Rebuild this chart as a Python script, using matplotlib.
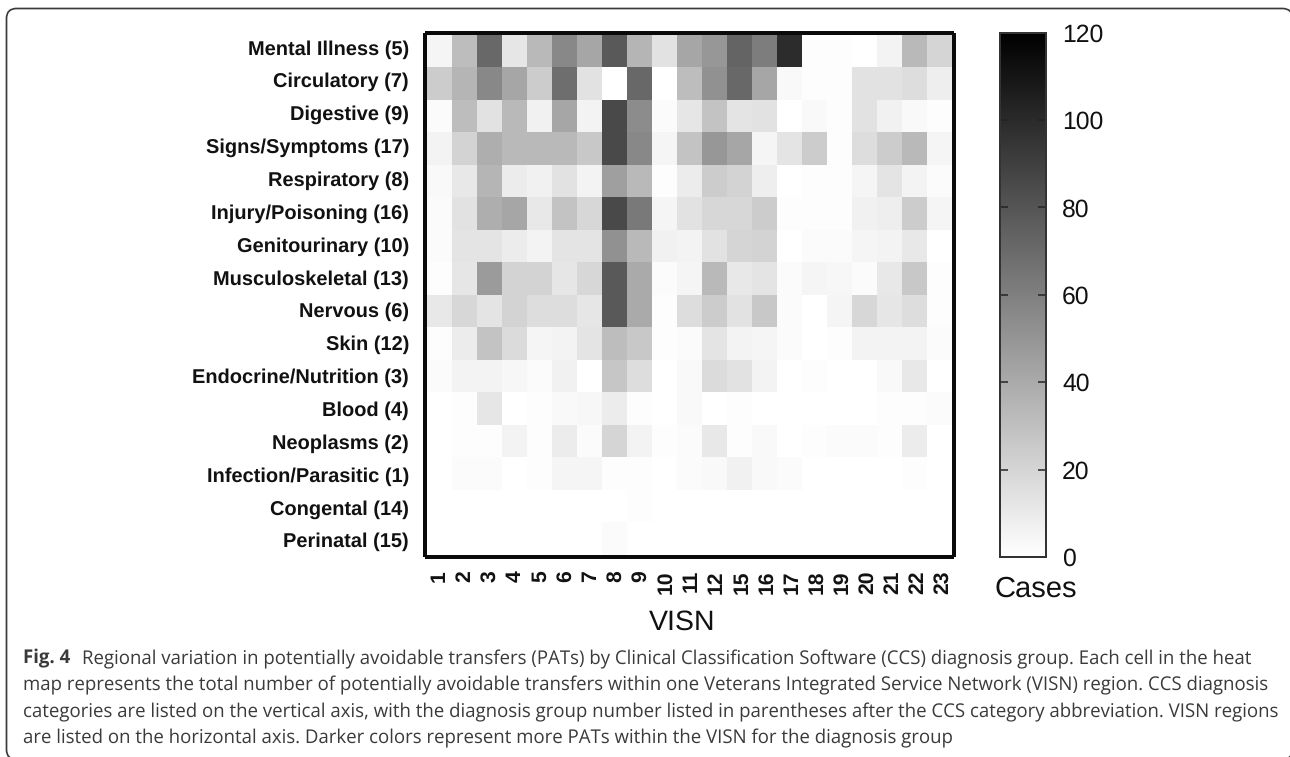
import matplotlib
matplotlib.use("Agg")
import matplotlib.pyplot as plt
from matplotlib.colors import LinearSegmentedColormap
from matplotlib.patches import FancyBboxPatch
import numpy as np

W, H = 1290, 757
DPI = 100

visn = ["1","2","3","4","5","6","7","8","9","10","11","12","15","16","17","18","19","20","21","22","23"]
diagnoses = ["Mental Illness (5)","Circulatory (7)","Digestive (9)","Signs/Symptoms (17)","Respiratory (8)",
             "Injury/Poisoning (16)","Genitourinary (10)","Musculoskeletal (13)","Nervous (6)","Skin (12)",
             "Endocrine/Nutrition (3)","Blood (4)","Neoplasms (2)","Infection/Parasitic (1)","Congental (14)","Perinatal (15)"]

mental   = [5,31,71,12,33,56,42,78,35,14,42,49,73,61,99,1,1,0,6,33,20]
circ     = [24,35,56,42,24,68,14,0,71,0,31,52,71,42,3,1,1,14,14,16,8]
digest   = [2,31,14,33,7,42,6,85,54,2,12,28,13,14,0,3,1,14,7,3,1]
signs    = [6,21,38,33,33,33,26,85,56,5,28,49,42,5,13,24,1,16,24,33,5]
resp     = [3,11,35,9,7,14,6,45,33,1,9,24,21,8,0,1,1,5,13,6,2]
injury   = [2,14,38,42,11,28,19,85,63,5,14,19,19,24,1,1,1,7,8,24,5]
genito   = [2,13,13,9,6,13,13,52,33,7,6,14,20,21,0,2,2,5,6,11,0]
musculo  = [1,12,47,21,21,12,19,78,40,2,5,33,11,13,2,5,4,2,11,26,1]
nervous  = [11,19,13,21,16,16,12,78,40,1,16,24,14,26,2,0,5,19,12,16,1]
skin     = [1,9,28,17,5,6,13,31,26,1,2,13,6,5,2,0,1,6,6,6,2]
endo     = [2,6,6,4,2,7,0,27,16,0,3,17,14,6,0,1,0,0,3,11,0]
blood    = [0,1,12,0,1,3,4,9,1,0,3,0,1,0,0,0,0,0,1,1,2]
neoplasm = [0,1,1,6,1,9,2,20,6,1,2,11,1,3,0,1,2,2,1,9,0]
infect   = [0,2,2,0,1,5,5,1,1,0,2,3,7,3,2,0,0,0,0,1,0]
congen   = [0,0,0,0,0,0,0,0,1,0,0,0,0,0,0,0,0,0,0,0,0]
perinat  = [0,0,0,0,0,0,0,2,0,0,0,0,0,0,0,0,0,0,0,0,0]

cbar_ticks = [0,20,40,60,80,100,120]
caption_bold = "Fig. 4"
caption_lines = [
 "Regional variation in potentially avoidable transfers (PATs) by Clinical Classification Software (CCS) diagnosis group. Each cell in the heat",
 "map represents the total number of potentially avoidable transfers within one Veterans Integrated Service Network (VISN) region. CCS diagnosis",
 "categories are listed on the vertical axis, with the diagnosis group number listed in parentheses after the CCS category abbreviation. VISN regions",
 "are listed on the horizontal axis. Darker colors represent more PATs within the VISN for the diagnosis group",
]

values = np.array([mental,circ,digest,signs,resp,injury,genito,musculo,nervous,skin,endo,blood,neoplasm,infect,congen,perinat], dtype=float)

plt.rcParams['font.family'] = ['Liberation Sans', 'DejaVu Sans']
plt.rcParams['text.hinting'] = 'no_hinting'
plt.rcParams['text.hinting_factor'] = 8
px = lambda p: p * 72 / DPI

def rect(x0, y0, x1, y1):
    return [x0 / W, 1 - y1 / H, (x1 - x0) / W, (y1 - y0) / H]

fig = plt.figure(figsize=(W / DPI, H / DPI), dpi=DPI, facecolor='white')

# decoration layer in pixel coordinates
bg = fig.add_axes([0, 0, 1, 1], zorder=-1)
bg.set_xlim(0, W); bg.set_ylim(H, 0); bg.axis('off')
bg.add_patch(FancyBboxPatch((6.5, 8.5), 1286, 751, boxstyle="round,pad=0,rounding_size=10",
                            fc='white', ec='#3a3a3a', lw=px(1.7), clip_on=False))

# heat map
cmap = LinearSegmentedColormap.from_list("wb", ["#ffffff", "#000000"])
ax = fig.add_axes(rect(427, 35, 952, 555))
im = ax.imshow(values, cmap=cmap, vmin=0, vmax=120, aspect='auto', interpolation='nearest')
# spine repositioning resets the ticks, so it comes before the tick labels
for s in ax.spines.values():
    s.set_linewidth(px(4))
    s.set_color('#0a0a0a')
    s.set_position(('outward', px(2)))
# the reference's tick labels are spaced slightly wider than its cells
x_label_pos = (439.5 + 25.18 * np.arange(len(visn)) - 427) / 25 - 0.5
y_label_pos = (49.25 + 32.85 * np.arange(len(diagnoses)) - 35) / 32.5 - 0.5
ax.set_xticks(x_label_pos)
ax.set_xticklabels(visn, rotation=90, fontweight='bold', fontsize=15.2, color='#111111', va='top', ha='center')
ax.set_yticks(y_label_pos)
ax.set_yticklabels(diagnoses, fontweight='bold', fontsize=14.4, color='#111111', va='center')
ax.tick_params(axis='both', length=0)
ax.tick_params(axis='x', pad=px(13))
ax.tick_params(axis='y', pad=px(16))

# colour bar
cax = fig.add_axes(rect(1000, 32.5, 1046, 557))
cb = fig.colorbar(im, cax=cax, ticks=cbar_ticks)
cb.outline.set_edgecolor('#333333')
cb.outline.set_linewidth(px(2))
cax.tick_params(axis='y', direction='in', left=True, right=True, length=px(8), width=px(1.5),
                color='#222222', labelsize=17.8, pad=px(16), labelcolor='#111111')

bg.text(682, 622, "VISN", fontsize=20.5, ha='center', va='center', color='#111111')
bg.text(1036, 589, "Cases", fontsize=21, ha='center', va='center', color='#111111')

# caption
cap_y = [659, 685.5, 712, 738.5]
cap_kw = dict(family=['Open Sans', 'DejaVu Sans'], fontsize=13.45, color='#3a3a3a', va='center', ha='left')
bg.text(23, cap_y[0], caption_bold, fontweight='bold', **cap_kw)
bg.text(82, cap_y[0], caption_lines[0], **cap_kw)
for y, line in zip(cap_y[1:], caption_lines[1:]):
    bg.text(23, y, line, **cap_kw)

fig.savefig("out.png", dpi=DPI, facecolor='white')
